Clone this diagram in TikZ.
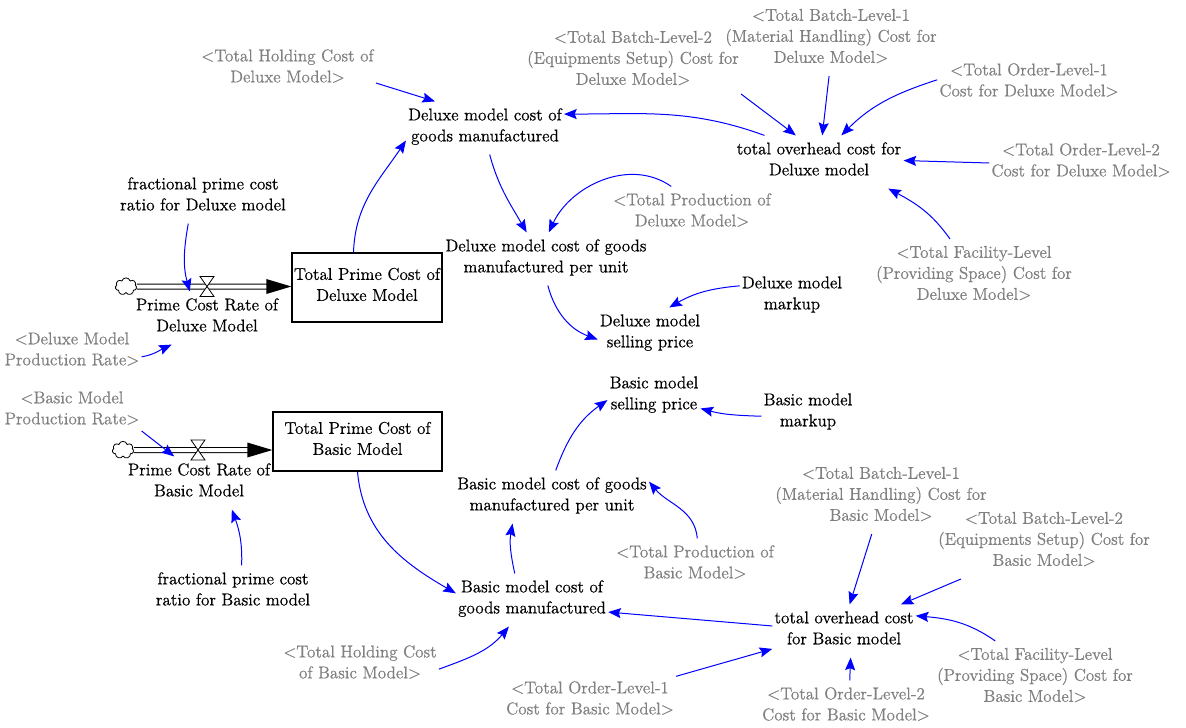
\documentclass[tikz,border=0pt]{standalone}
\usepackage{fontspec}
\newfontfamily\vensimfont{Latin Modern Roman}[FakeBold=0.6]
\usetikzlibrary{arrows.meta,shapes.symbols,calc}
\definecolor{ghostgray}{RGB}{128,128,128}
\definecolor{linkblue}{RGB}{0,0,255}
\newcommand\vfont{\vensimfont\fontsize{12.8pt}{15.75pt}\selectfont}
\tikzset{
  var/.style={align=center, inner xsep=1.5pt, inner ysep=5pt, font=\vfont, text=black,
    execute at begin node=\strut, execute at end node=\strut},
  ghost/.style={var, text=ghostgray},
  stock/.style={draw=black, line width=1pt, align=center, font=\vfont, inner sep=0pt,
    execute at begin node=\strut, execute at end node=\strut},
  link/.style={draw=linkblue, line width=0.75pt, -{Stealth[length=9.5pt,width=7.5pt,inset=1.5pt]}},
  pipe/.style={draw=black, double=white, double distance=3pt, line width=0.75pt},
  cloudsrc/.style={cloud, cloud puffs=7, cloud ignores aspect, draw=black, fill=white,
    line width=0.6pt, minimum width=16pt, minimum height=13pt, inner sep=0pt},
  valvepic/.pic={\draw[fill=white, line width=0.6pt] (-7,10) -- (7,10) -- (-7,-10) -- (7,-10) -- cycle;}
}
\begin{document}
\begin{tikzpicture}[x=0.75pt,y=0.75pt]
\fill[white] (0,0) rectangle (1186,-728);
\useasboundingbox (0,0) rectangle (1186,-728);

% ---------------- Deluxe part ----------------
\node[ghost] (holdD) at (287.5,-69) {<Total Holding Cost of\\Deluxe Model>};
\node[var] (dcgm) at (485,-128) {Deluxe model cost of\\goods manufactured};
\node[ghost] (bl2D) at (633,-61) {<Total Batch-Level-2\\(Equipments Setup) Cost for\\Deluxe Model>};
\node[ghost] (bl1D) at (831,-39) {<Total Batch-Level-1\\(Material Handling) Cost for\\Deluxe Model>};
\node[ghost] (ol1D) at (1029,-83) {<Total Order-Level-1\\Cost for Deluxe Model>};
\node[var] (tocD) at (819,-162) {total overhead cost for\\Deluxe model};
\node[ghost] (ol2D) at (1081,-163) {<Total Order-Level-2\\Cost for Deluxe Model>};
\node[var] (fpcD) at (203,-197) {fractional prime cost\\ratio for Deluxe model};
\node[ghost] (tpD) at (692,-213) {<Total Production of\\Deluxe Model>};
\node[var] (dcgmu) at (546,-259) {Deluxe model cost of goods\\manufactured per unit};
\node[stock, minimum width=112.5pt, minimum height=51.75pt] (tpcD) at (367,-287.5) {Total Prime Cost of\\Deluxe Model};
\node[ghost] (flD) at (974,-276) {<Total Facility-Level\\(Providing Space) Cost for\\Deluxe Model>};
\node[var] (dmm) at (792,-296) {Deluxe model\\markup};
\node[var] (pcrD) at (207,-318) {Prime Cost Rate of\\Deluxe Model};
\node[var] (dsp) at (650,-334) {Deluxe model\\selling price};
\node[ghost] (dpr) at (72,-352) {<Deluxe Model\\Production Rate>};

\node[cloudsrc] (cD) at (126,-286.5) {};
\coordinate (vD) at (207,-286.5);
\draw[pipe] (cD.east) -- ($(tpcD.west |- vD)+(-22,0)$);
\fill[black] (tpcD.west |- vD) -- ++(-25,7.5) -- ++(0,-15) -- cycle;
\pic at (vD) {valvepic};

% ---------------- Basic part ----------------
\node[var] (bsp) at (654,-396) {Basic model\\selling price};
\node[ghost] (bpr) at (72,-411) {<Basic Model\\Production Rate>};
\node[var] (bmm) at (808,-413) {Basic model\\markup};
\node[stock, minimum width=126.75pt, minimum height=44.25pt] (tpcB) at (357.5,-441.5) {Total Prime Cost of\\Basic Model};
\node[var] (pcrB) at (199,-483) {Prime Cost Rate of\\Basic Model};
\node[var] (bcgmu) at (552,-497) {Basic model cost of goods\\manufactured per unit};
\node[ghost] (bl1B) at (881,-497) {<Total Batch-Level-1\\(Material Handling) Cost for\\Basic Model>};
\node[ghost] (bl2B) at (1044,-542) {<Total Batch-Level-2\\(Equipments Setup) Cost for\\Basic Model>};
\node[ghost] (tpB) at (695,-565) {<Total Production of\\Basic Model>};
\node[var] (fpcB) at (233,-592) {fractional prime cost\\ratio for Basic model};
\node[var] (bcgm) at (532,-600) {Basic model cost of\\goods manufactured};
\node[var] (tocB) at (844,-631) {total overhead cost\\for Basic model};
\node[ghost] (holdB) at (360,-665) {<Total Holding Cost\\of Basic Model>};
\node[ghost] (flB) at (1035,-678) {<Total Facility-Level\\(Providing Space) Cost for\\Basic Model>};
\node[ghost] (ol1B) at (590,-701) {<Total Order-Level-1\\Cost for Basic Model>};
\node[ghost] (ol2B) at (846,-707) {<Total Order-Level-2\\Cost for Basic Model>};

\node[cloudsrc] (cB) at (123,-450) {};
\coordinate (vB) at (198,-450);
\draw[pipe] (cB.east) -- ($(tpcB.west |- vB)+(-22,0)$);
\fill[black] (tpcB.west |- vB) -- ++(-25,7.5) -- ++(0,-15) -- cycle;
\pic at (vB) {valvepic};

% ---------------- links, Deluxe ----------------
\draw[link] (holdD.-9.4) -- (dcgm.152);
\draw[link] (tocD.154) to[out=160,in=0] (dcgm.10.6);
\draw[link] (tpcD.111.5) to[out=88,in=236] (dcgm.189.5);
\draw[link] (dcgm.-80.5) to[out=-75,in=120] (dcgmu.126.9);
\draw[link] (tpD.128) to[out=145,in=65] (dcgmu.84.6);
\draw[link] (bl2D.-17.4) -- (tocD.131.3);
\draw[link] (bl1D.-93.5) -- (tocD.83);
\draw[link] (ol1D.178) to[out=198,in=45] (tocD.50);
\draw[link] (ol2D.180) -- (tocD.1);
\draw[link] (flD.123.7) to[out=125,in=-28] (tocD.-21.6);
\draw[link] (fpcD.241.4) to[out=-100,in=105] (pcrD.123);
\draw[link] (dpr.-4.4) to[out=10,in=205] (pcrD.217.5);
\draw[link] (dcgmu.-86) to[out=-75,in=160] (dsp.186.6);
\draw[link] (dmm.169.4) to[out=185,in=30] (dsp.54.6);

% ---------------- links, Basic ----------------
\draw[link] (bpr.-16.9) -- (pcrB.133.7);
\draw[link] (fpcB.72.3) to[out=88,in=-70] (pcrB.-39.4);
\draw[link] (tpcB.south) to[out=-85,in=150] (bcgm.175.4);
\draw[link] (bcgm.123.7) to[out=102,in=-100] (bcgmu.214.7);
\draw[link] (bcgmu.82.5) to[out=70,in=215] (bsp.185.3);
\draw[link] (bmm.184) to[out=178,in=-15] (bsp.-15.8);
\draw[link] (tpB.85) to[out=95,in=-50] (bcgmu.9.5);
\draw[link] (bl1B.-104.8) -- (tocB.78);
\draw[link] (bl2B.204.1) -- (tocB.25.2);
\draw[link] (tocB.176.9) -- (bcgm.-9.3);
\draw[link] (flB.137.4) to[out=145,in=-5] (tocB.12.3);
\draw[link] (holdB.-3) to[out=20,in=230] (bcgm.229.2);
\draw[link] (ol1B.16.7) -- (tocB.194.6);
\draw[link] (ol2B.82.6) -- (tocB.-76.6);
\end{tikzpicture}
\end{document}
